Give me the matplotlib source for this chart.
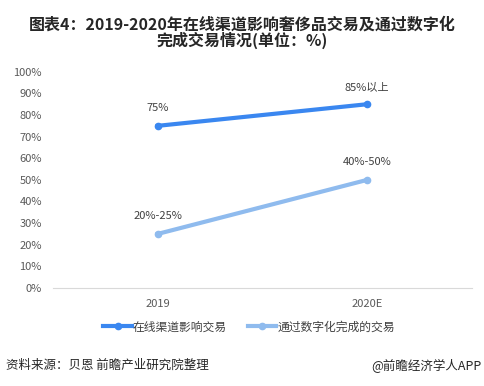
import matplotlib.pyplot as plt

plt.rcParams['font.family'] = ['Noto Sans CJK SC', 'DejaVu Sans']

years = ["2019", "2020E"]
online = [75, 85]
digital = [25, 50]
online_labels = ["75%", "85%以上"]
digital_labels = ["20%-25%", "40%-50%"]
yticks = list(range(0, 101, 10))

fig = plt.figure(figsize=(4.84, 3.86), dpi=100)
ax = fig.add_axes([0.1095, 0.254, 0.8655, 0.56])

x = list(range(len(years)))
ax.plot(x, online, color="#3a87f0", lw=3, marker="o", ms=4.5, label="在线渠道影响交易")
ax.plot(x, digital, color="#8fbbee", lw=3, marker="o", ms=4.5, label="通过数字化完成的交易")

for xi, v, t in zip(x, online, online_labels):
    ax.annotate(t, (xi, v), xytext=(0, 9), textcoords="offset points",
                ha="center", va="bottom", fontsize=8, color="#404040")
for xi, v, t in zip(x, digital, digital_labels):
    ax.annotate(t, (xi, v), xytext=(0, 9), textcoords="offset points",
                ha="center", va="bottom", fontsize=8, color="#404040")

ax.set_xlim(-0.5, 1.5)
ax.set_ylim(0, 100)
ax.set_xticks(x)
ax.set_xticklabels(years)
ax.set_yticks(yticks)
ax.set_yticklabels([f"{v}%" for v in yticks])
ax.tick_params(axis="both", length=0, labelsize=8, colors="#595959", pad=8)
for s in ["top", "right", "left"]:
    ax.spines[s].set_visible(False)
ax.spines["bottom"].set_color("#d9d9d9")

fig.legend(loc="center", bbox_to_anchor=(0.515, 0.153), ncol=2, frameon=False,
           fontsize=8.5, handlelength=2.4, columnspacing=1.8, handletextpad=0.1,
           labelcolor="#404040")

fig.text(0.5, 0.958, "图表4：2019-2020年在线渠道影响奢侈品交易及通过数字化\n完成交易情况(单位：%)",
         ha="center", va="top", fontsize=11.5, fontweight="bold", color="#262626",
         linespacing=0.95)
fig.text(0.012, 0.053, "资料来源：贝恩 前瞻产业研究院整理", ha="left", va="center",
         fontsize=9, color="#262626")
fig.text(0.995, 0.053, "@前瞻经济学人APP", ha="right", va="center",
         fontsize=9, color="#262626")

fig.savefig("out.png", dpi=100)
